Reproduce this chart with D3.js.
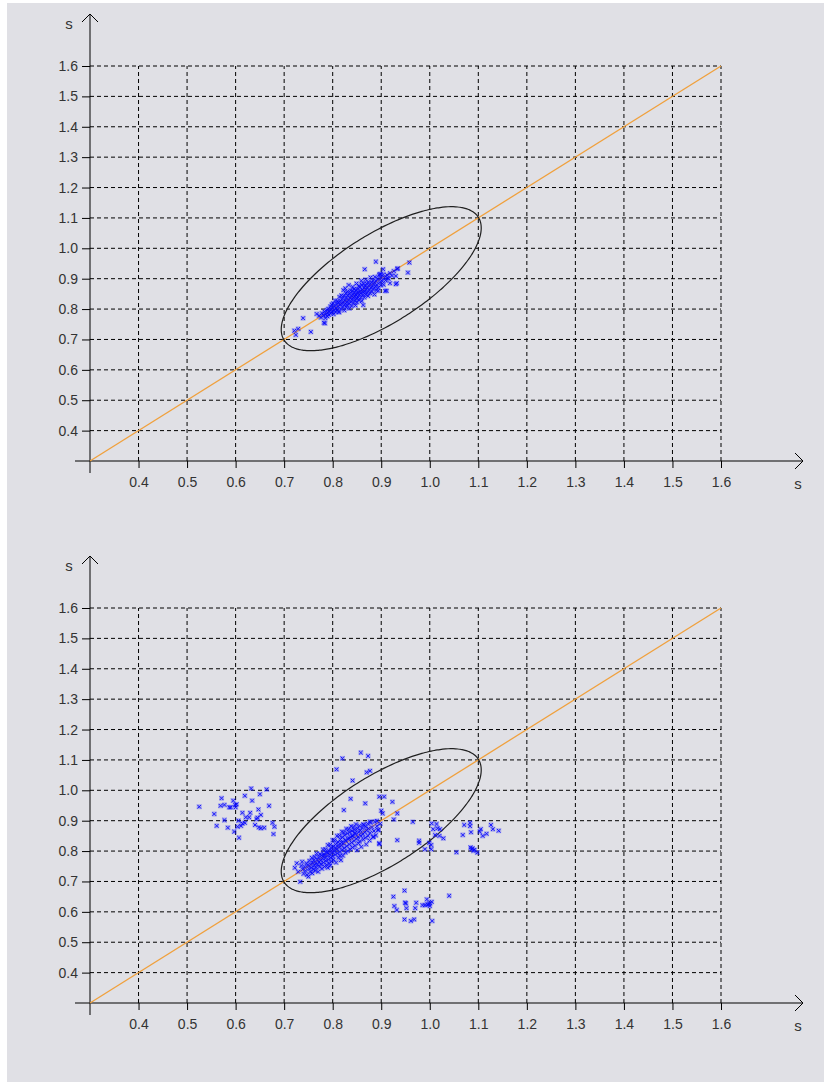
<!DOCTYPE html>
<html>
<head>
<meta charset="utf-8">
<script src="https://cdn.jsdelivr.net/npm/d3@7"></script>
<style>
    body { margin: 0; background: #ffffff; }
    text { font-family: "Liberation Sans", Arial, sans-serif; }
</style>
</head>
<body>
<div id="chart"></div>
<script>
// Data used to draw the two scatter panels:
//------------------------------------
var tickValues = [0.4, 0.5, 0.6, 0.7, 0.8, 0.9, 1.0, 1.1, 1.2, 1.3, 1.4, 1.5, 1.6];
var tickLabels = ["0.4", "0.5", "0.6", "0.7", "0.8", "0.9", "1.0", "1.1", "1.2", "1.3", "1.4", "1.5", "1.6"];
var axisDomain = [0.3, 1.6];
var axisName = "s";

// diagonal y = x
var diagonal = [[0.3, 0.3], [1.6, 1.6]];

// ellipse: centre, half extents along x / y, correlation
var ellipseCenter = [0.9, 0.9];
var ellipseHalf = [0.206, 0.237];
var ellipseRho = 0.705;

// top panel points (x, y)
var topPoints = [
    [0.772,0.778],[0.776,0.772],[0.778,0.786],[0.781,0.779],[0.783,0.792],[0.785,0.770],[0.786,0.783],[0.788,0.797],[0.789,0.776],[0.790,0.788],
    [0.791,0.801],[0.792,0.781],[0.793,0.793],[0.795,0.808],[0.796,0.786],[0.797,0.799],[0.798,0.815],[0.799,0.791],[0.800,0.804],[0.801,0.819],
    [0.802,0.783],[0.803,0.796],[0.804,0.810],[0.805,0.828],[0.806,0.790],[0.807,0.803],[0.808,0.817],[0.809,0.797],
    [0.810,0.826],[0.811,0.808],[0.812,0.822],[0.813,0.792],[0.814,0.840],[0.815,0.814],[0.816,0.827],[0.817,0.801],[0.818,0.845],[0.819,0.818],
    [0.820,0.834],[0.821,0.808],[0.822,0.862],[0.822,0.824],[0.823,0.843],[0.824,0.796],[0.825,0.815],[0.826,0.830],[0.826,0.868],[0.827,0.852],
    [0.828,0.806],[0.829,0.822],[0.829,0.838],[0.830,0.857],[0.830,0.813],
    [0.831,0.845],[0.832,0.828],[0.833,0.879],[0.834,0.802],[0.834,0.818],[0.835,0.852],[0.836,0.836],[0.837,0.862],[0.838,0.824],[0.838,0.844],
    [0.839,0.810],[0.840,0.858],[0.840,0.832],[0.841,0.873],[0.842,0.848],[0.843,0.820],[0.843,0.838],[0.844,0.866],[0.845,0.854],[0.846,0.828],
    [0.846,0.842],[0.847,0.812],[0.848,0.862],[0.848,0.846],[0.849,0.834],[0.849,0.884],[0.850,0.852],[0.850,0.822],
    [0.851,0.866],[0.852,0.840],[0.853,0.856],[0.854,0.876],[0.854,0.830],[0.855,0.848],[0.856,0.872],[0.857,0.860],[0.858,0.838],[0.858,0.852],
    [0.859,0.893],[0.860,0.880],[0.860,0.826],[0.861,0.864],[0.862,0.846],[0.863,0.856],[0.864,0.884],[0.865,0.870],[0.865,0.838],[0.866,0.858],
    [0.867,0.876],[0.868,0.848],[0.868,0.897],[0.869,0.864],[0.870,0.884],
    [0.871,0.854],[0.872,0.872],[0.873,0.843],[0.874,0.889],[0.875,0.862],[0.876,0.880],[0.877,0.852],[0.878,0.904],[0.879,0.870],[0.880,0.888],
    [0.881,0.858],[0.882,0.876],[0.883,0.894],[0.884,0.866],[0.885,0.884],[0.886,0.848],[0.887,0.906],[0.888,0.874],[0.889,0.892],[0.890,0.862],
    [0.891,0.880],[0.893,0.900],[0.894,0.870],[0.896,0.912],[0.897,0.888],[0.899,0.878],[0.900,0.902],[0.902,0.892],[0.904,0.914],[0.905,0.880],
    [0.907,0.904],[0.909,0.894],[0.912,0.912],[0.915,0.900],[0.918,0.918],[0.922,0.910],[0.926,0.925],
    [0.889,0.956],[0.933,0.932],[0.934,0.934],[0.955,0.920],[0.958,0.953],[0.932,0.885],[0.918,0.885],[0.913,0.902],[0.911,0.860],[0.899,0.915],
    [0.866,0.931],[0.897,0.915],[0.904,0.931],[0.930,0.909],[0.930,0.882],[0.908,0.860],[0.894,0.860],[0.863,0.813],[0.813,0.789],[0.784,0.753],
    [0.739,0.770],[0.721,0.729],[0.729,0.735],[0.724,0.715],[0.755,0.725],[0.782,0.755],[0.767,0.784]
];

// bottom panel points (x, y): main cloud
var bottomMain = [
    [0.722,0.745],[0.726,0.760],[0.729,0.732],[0.733,0.699],[0.735,0.752],[0.738,0.740],[0.740,0.725],[0.737,0.765],
    [0.742,0.748],[0.744,0.735],[0.746,0.760],[0.747,0.722],[0.749,0.753],[0.750,0.716],[0.751,0.742],[0.752,0.768],[0.754,0.731],[0.755,0.756],
    [0.756,0.745],[0.757,0.778],[0.758,0.727],[0.759,0.762],[0.760,0.740],
    [0.761,0.770],[0.762,0.752],[0.763,0.781],[0.764,0.736],[0.765,0.760],[0.766,0.746],[0.767,0.792],[0.768,0.772],[0.769,0.755],[0.770,0.732],
    [0.771,0.780],[0.772,0.764],[0.773,0.748],[0.774,0.790],[0.775,0.770],[0.776,0.757],[0.777,0.786],[0.778,0.742],[0.779,0.775],[0.780,0.805],
    [0.781,0.762],[0.782,0.790],[0.783,0.749],[0.784,0.778],[0.785,0.806],[0.786,0.768],[0.787,0.796],[0.788,0.755],[0.789,0.784],[0.790,0.820],
    [0.791,0.772],[0.792,0.802],[0.793,0.760],[0.794,0.788],[0.795,0.821],[0.796,0.778],[0.797,0.810],[0.798,0.766],[0.799,0.795],[0.800,0.836],
    [0.800,0.783],[0.790,0.745],[0.795,0.752],
    [0.801,0.815],[0.802,0.772],[0.803,0.800],[0.804,0.835],[0.805,0.788],[0.806,0.822],[0.807,0.762],[0.808,0.806],[0.809,0.850],[0.810,0.793],
    [0.811,0.830],[0.812,0.778],[0.813,0.812],[0.814,0.851],[0.815,0.798],[0.816,0.838],[0.817,0.770],[0.818,0.818],[0.819,0.864],[0.820,0.804],
    [0.820,0.846],[0.815,0.785],
    [0.821,0.785],[0.822,0.826],[0.823,0.861],[0.824,0.810],[0.825,0.852],[0.826,0.795],[0.827,0.834],[0.828,0.873],[0.829,0.816],[0.830,0.858],
    [0.831,0.800],[0.832,0.840],[0.833,0.872],[0.834,0.822],[0.835,0.862],[0.836,0.806],[0.837,0.846],[0.838,0.882],[0.839,0.828],[0.840,0.866],
    [0.841,0.812],[0.842,0.850],[0.843,0.879],[0.844,0.834],[0.845,0.870],[0.846,0.818],[0.847,0.856],[0.848,0.888],[0.849,0.840],[0.850,0.803],
    [0.851,0.874],[0.852,0.846],[0.853,0.825],[0.854,0.862],[0.855,0.883],[0.856,0.832],[0.857,0.868],[0.858,0.850],[0.859,0.814],
    [0.861,0.876],[0.862,0.856],[0.863,0.838],[0.864,0.886],[0.866,0.862],[0.867,0.844],[0.868,0.880],[0.869,0.822],[0.870,0.868],[0.872,0.890],
    [0.873,0.850],[0.874,0.874],[0.876,0.835],[0.877,0.860],[0.878,0.893],[0.863,0.888],
    [0.881,0.878],[0.883,0.846],[0.885,0.866],[0.887,0.897],[0.889,0.852],[0.891,0.882],[0.894,0.870],[0.896,0.826],[0.898,0.890],
    [0.812,0.820],[0.818,0.828],[0.826,0.836],[0.834,0.842],[0.806,0.810],[0.798,0.802],[0.790,0.795],[0.782,0.786],[0.840,0.850],[0.846,0.860]
];

// bottom panel: points scattered above / inside the ellipse
var bottomUpper = [
    [0.858,1.124],[0.873,1.113],[0.820,1.105],[0.808,1.069],[0.870,1.059],[0.877,1.064],[0.841,1.032],[0.837,0.972],[0.896,0.979],[0.906,0.979],
    [0.923,0.962],[0.867,0.957],[0.823,0.935],[0.900,0.933],[0.903,0.924],[0.933,0.924],[0.926,0.904],[0.877,0.897],[0.891,0.899],[0.894,0.869],
    [0.884,0.847],[0.896,0.823],[0.933,0.836]
];

// bottom panel: left group
var bottomLeft = [
    [0.632,1.006],[0.664,1.003],[0.619,0.982],[0.650,0.987],[0.571,0.974],[0.595,0.966],[0.634,0.966],[0.525,0.946],[0.569,0.949],[0.577,0.952],
    [0.587,0.944],[0.590,0.944],[0.599,0.952],[0.602,0.954],[0.600,0.944],[0.669,0.949],[0.647,0.937],[0.556,0.922],[0.614,0.926],[0.630,0.926],
    [0.621,0.911],[0.628,0.911],[0.619,0.893],[0.645,0.910],[0.643,0.905],[0.652,0.919],[0.577,0.902],[0.606,0.900],[0.614,0.891],[0.611,0.883],
    [0.561,0.883],[0.584,0.877],[0.604,0.880],[0.640,0.886],[0.648,0.878],[0.652,0.875],[0.659,0.877],[0.676,0.893],[0.680,0.880],[0.597,0.864],
    [0.678,0.856],[0.607,0.844]
];

// bottom panel: right group
var bottomRight = [
    [0.965,0.896],[1.004,0.891],[1.014,0.889],[1.016,0.875],[1.021,0.872],[1.007,0.872],[1.011,0.853],[1.020,0.850],[1.028,0.842],[0.978,0.834],
    [0.978,0.827],[0.999,0.827],[1.003,0.820],[0.990,0.806],[1.003,0.806],[1.071,0.886],[1.083,0.893],[1.083,0.882],[1.085,0.862],[1.068,0.853],
    [1.105,0.872],[1.103,0.864],[1.109,0.850],[1.117,0.857],[1.126,0.886],[1.130,0.872],[1.142,0.867],[1.055,0.796],[1.084,0.812],[1.086,0.806],
    [1.090,0.801],[1.098,0.795],[1.088,0.809],[1.092,0.804]
];

// bottom panel: lower group
var bottomLower = [
    [0.925,0.650],[0.948,0.670],[0.927,0.619],[0.932,0.606],[0.949,0.630],[0.951,0.628],[0.952,0.612],[0.970,0.612],[0.948,0.575],[0.961,0.570],
    [0.968,0.575],[0.985,0.622],[0.990,0.622],[0.994,0.641],[1.000,0.628],[1.004,0.633],[1.000,0.619],[0.998,0.625],[0.995,0.624],[1.040,0.653],
    [1.005,0.570],[0.972,0.630]
];

var bottomPoints = bottomMain.concat(bottomUpper, bottomLeft, bottomRight, bottomLower);

//--------------------------------------
// Layout
var width = 824, height = 1085;
var panelOffsets = [0, 542];

var svg = d3.select("#chart").append("svg")
    .attr("width", width)
    .attr("height", height);

// light grey canvas
svg.append("rect")
    .attr("x", 7).attr("y", 3)
    .attr("width", 817).attr("height", 1079)
    .attr("fill", "#e0e0e5");

var x = d3.scaleLinear().domain(axisDomain).range([90, 721]);
var y = d3.scaleLinear().domain(axisDomain).range([461, 66]);

function drawPanel(offset, points) {
    var g = svg.append("g").attr("transform", "translate(0," + offset + ")");

    // dashed grid
    g.selectAll(".vgrid").data(tickValues).enter().append("line")
        .attr("x1", function (d) { return x(d); })
        .attr("x2", function (d) { return x(d); })
        .attr("y1", y(axisDomain[0]))
        .attr("y2", y(axisDomain[1]))
        .attr("stroke", "#000")
        .attr("stroke-width", 1)
        .attr("stroke-dasharray", "4,3");
    g.selectAll(".hgrid").data(tickValues).enter().append("line")
        .attr("y1", function (d) { return y(d); })
        .attr("y2", function (d) { return y(d); })
        .attr("x1", x(axisDomain[0]))
        .attr("x2", x(axisDomain[1]))
        .attr("stroke", "#000")
        .attr("stroke-width", 1)
        .attr("stroke-dasharray", "4,3");

    // axes with ticks and labels
    var xAxis = d3.axisBottom(x).tickValues(tickValues)
        .tickFormat(function (d, i) { return tickLabels[i]; })
        .tickSize(7).tickPadding(9);
    var yAxis = d3.axisLeft(y).tickValues(tickValues)
        .tickFormat(function (d, i) { return tickLabels[i]; })
        .tickSize(8).tickPadding(4);

    var gx = g.append("g").attr("transform", "translate(0," + y(axisDomain[0]) + ")").call(xAxis);
    var gy = g.append("g").attr("transform", "translate(" + x(axisDomain[0]) + ",0)").call(yAxis);
    [gx, gy].forEach(function (a) {
        a.select(".domain").remove();
        a.selectAll("line").attr("stroke", "#000");
        a.selectAll("text")
            .attr("fill", "#333")
            .style("font-size", "14px")
            .style("font-family", "'Liberation Sans', Arial, sans-serif");
    });

    // axis lines with open arrow heads
    var ox = x(axisDomain[0]), oy = y(axisDomain[0]);
    var xEnd = x(axisDomain[1]) + 82, yEnd = y(axisDomain[1]) - 52;
    g.append("line").attr("x1", ox - 15).attr("x2", xEnd).attr("y1", oy).attr("y2", oy)
        .attr("stroke", "#000").attr("stroke-width", 1);
    g.append("line").attr("x1", ox).attr("x2", ox).attr("y1", oy + 12).attr("y2", yEnd)
        .attr("stroke", "#000").attr("stroke-width", 1);
    g.append("path")
        .attr("d", "M" + (xEnd - 8) + "," + (oy - 8) + "L" + xEnd + "," + oy + "L" + (xEnd - 8) + "," + (oy + 8))
        .attr("fill", "none").attr("stroke", "#000").attr("stroke-width", 1);
    g.append("path")
        .attr("d", "M" + (ox - 8) + "," + (yEnd + 8) + "L" + ox + "," + yEnd + "L" + (ox + 8) + "," + (yEnd + 8))
        .attr("fill", "none").attr("stroke", "#000").attr("stroke-width", 1);

    g.append("text").attr("x", ox - 21).attr("y", yEnd + 15)
        .attr("text-anchor", "middle").attr("fill", "#333")
        .style("font-size", "15px").text(axisName);
    g.append("text").attr("x", xEnd - 5).attr("y", oy + 28)
        .attr("text-anchor", "middle").attr("fill", "#333")
        .style("font-size", "15px").text(axisName);

    // orange diagonal
    g.append("path")
        .attr("d", d3.line().x(function (d) { return x(d[0]); }).y(function (d) { return y(d[1]); })(diagonal))
        .attr("fill", "none")
        .attr("stroke", "#f0a03c")
        .attr("stroke-width", 1.3);

    // ellipse
    var angles = d3.range(0, 360, 2);
    var ellipseLine = d3.line()
        .x(function (a) {
            var t = a * Math.PI / 180;
            return x(ellipseCenter[0] + ellipseHalf[0] * Math.cos(t));
        })
        .y(function (a) {
            var t = a * Math.PI / 180;
            return y(ellipseCenter[1] + ellipseHalf[1] * (ellipseRho * Math.cos(t) + Math.sqrt(1 - ellipseRho * ellipseRho) * Math.sin(t)));
        })
        .curve(d3.curveCardinalClosed);
    g.append("path")
        .attr("d", ellipseLine(angles))
        .attr("fill", "none")
        .attr("stroke", "#202020")
        .attr("stroke-width", 1.2);

    // point markers: faint square with an x
    var marks = g.selectAll(".pt").data(points).enter().append("g")
        .attr("transform", function (d) { return "translate(" + x(d[0]) + "," + y(d[1]) + ")"; });
    marks.append("rect")
        .attr("x", -2.5).attr("y", -2.5).attr("width", 5).attr("height", 5)
        .attr("fill", "#2020ff").attr("opacity", 0.3);
    marks.append("path")
        .attr("d", "M-1.8,-1.8L1.8,1.8M-1.8,1.8L1.8,-1.8")
        .attr("stroke", "#0000ff").attr("stroke-width", 1).attr("opacity", 0.85);
}

drawPanel(panelOffsets[0], topPoints);
drawPanel(panelOffsets[1], bottomPoints);
</script>
</body>
</html>
